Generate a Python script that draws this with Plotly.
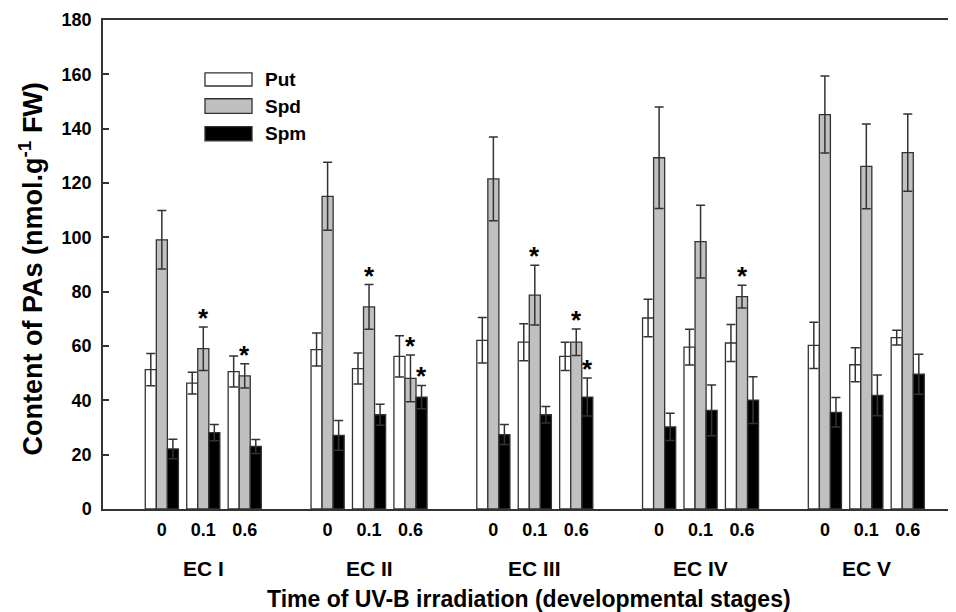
import plotly.graph_objects as go
import numpy as np

# Entwicklungsstadien und UV-B Dosen
stages = ['EC I', 'EC II', 'EC III', 'EC IV', 'EC V']
doses = ['0', '0.1', '0.6']

# Werte je Stadium x Dosis (Reihenfolge: EC I 0, 0.1, 0.6, EC II 0, ...)
put = [51.3, 46.3, 50.6, 58.7, 51.7, 56.2, 62.1, 61.4, 56.2, 70.3, 59.6, 61.1, 60.2, 53.1, 63.1]
put_err = [5.9, 4.0, 5.7, 6.1, 5.7, 7.6, 8.4, 6.8, 5.2, 6.9, 6.6, 6.8, 8.5, 6.3, 2.7]
spd = [99.1, 59.0, 49.0, 115.1, 74.4, 48.1, 121.5, 78.7, 61.4, 129.3, 98.4, 78.2, 145.2, 126.1, 131.2]
spd_err = [10.8, 8.0, 4.5, 12.5, 8.2, 8.6, 15.4, 11.0, 4.9, 18.7, 13.4, 4.2, 14.2, 15.6, 14.2]
spm = [22.1, 28.1, 23.0, 27.1, 34.7, 41.2, 27.4, 34.7, 41.2, 30.2, 36.3, 40.1, 35.6, 41.8, 49.6]
spm_err = [3.6, 3.0, 2.6, 5.5, 3.9, 4.3, 3.7, 3.0, 7.0, 5.0, 9.3, 8.6, 5.4, 7.5, 7.4]

# signifikante Unterschiede (*)
spd_sig = [0, 1, 1, 0, 1, 1, 0, 1, 1, 0, 0, 1, 0, 0, 0]
spm_sig = [0, 0, 0, 0, 0, 1, 0, 0, 1, 0, 0, 0, 0, 0, 0]

# x Positionen: 3 Dosen je Stadium + eine Lücke
xpos = np.array([4 * i + j for i in range(len(stages)) for j in range(len(doses))])
ticktext = doses * len(stages)

FONT = "Liberation Sans, Arial, sans-serif"
LINE = "#333333"

fig = go.Figure()

series = [
    ("Put", put, put_err, "white"),
    ("Spd", spd, spd_err, "#c0c0c0"),
    ("Spm", spm, spm_err, "black"),
]

for name, vals, errs, col in series:
    fig.add_trace(go.Bar(
        x=xpos, y=vals, name=name,
        marker=dict(color=col, line=dict(color=LINE, width=1.3)),
        error_y=dict(type="data", array=errs, visible=True,
                     color=LINE, thickness=1.5, width=4.5),
        showlegend=False,
    ))

fig.update_layout(barmode="group", bargap=0.2, bargroupgap=0)

# Sternchen über den Fehlerbalken
bw = 0.8 / 3
for k in range(len(xpos)):
    if spd_sig[k]:
        fig.add_annotation(x=xpos[k], y=spd[k] + spd_err[k], text="<b>*</b>",
                           showarrow=False, yanchor="bottom", yshift=-8,
                           font=dict(family=FONT, size=26, color="black"))
    if spm_sig[k]:
        fig.add_annotation(x=xpos[k] + bw, y=spm[k] + spm_err[k], text="<b>*</b>",
                           showarrow=False, yanchor="bottom", yshift=-8,
                           font=dict(family=FONT, size=26, color="black"))

# Stadien-Beschriftung unter den Dosen
for i, st in enumerate(stages):
    fig.add_annotation(x=4 * i + 1, y=-0.121, yref="paper", text=st,
                       showarrow=False, yanchor="middle",
                       font=dict(family=FONT, size=21, color="black", weight="bold"))

# eigene Legende (breite Kästchen wie im Original)
leg = [("Put", "white", 0.892, 0.865), ("Spd", "#c0c0c0", 0.839, 0.809), ("Spm", "black", 0.782, 0.753)]
for name, col, y1, y0 in leg:
    fig.add_shape(type="rect", xref="paper", yref="paper",
                  x0=0.1197, x1=0.1749, y0=y0, y1=y1,
                  fillcolor=col, line=dict(color=LINE, width=1.3))
    fig.add_annotation(xref="paper", yref="paper", x=0.188, y=(y0 + y1) / 2,
                       text=name, showarrow=False, xanchor="left", yanchor="middle",
                       font=dict(family=FONT, size=19, color="black", weight="bold"))

# Achsentitel
fig.add_annotation(xref="paper", yref="paper", x=0.5, y=-0.185, text="Time of UV-B irradiation (developmental stages)",
                   showarrow=False, yanchor="middle",
                   font=dict(family=FONT, size=23, color="black", weight="bold"))
fig.add_annotation(xref="paper", yref="paper", x=0, xshift=-72, y=0.49,
                   text="Content of PAs (nmol.g<sup>-1</sup> FW)", textangle=-90,
                   showarrow=False, xanchor="center", yanchor="middle",
                   font=dict(family=FONT, size=27, color="black", weight="bold"))

fig.update_xaxes(
    range=[-1.42, 19.14], tickmode="array", tickvals=xpos, ticktext=ticktext,
    ticks="", ticklabelstandoff=4, showline=True, linecolor=LINE, linewidth=1.5,
    mirror=True, showgrid=False, zeroline=False,
    tickfont=dict(family=FONT, size=18, color="black", weight="bold"),
)
fig.update_yaxes(
    range=[0, 180], dtick=20, ticks="inside", ticklen=6, tickwidth=1.5, tickcolor=LINE,
    ticklabelstandoff=6,
    showline=True, linecolor=LINE, linewidth=1.5, showgrid=False, zeroline=False,
    tickfont=dict(family=FONT, size=18, color="black", weight="bold"),
)

# Seite hat 8px Rand -> Figur entsprechend kleiner
fig.update_layout(
    width=948, height=604,
    margin=dict(l=95, r=1, t=12, b=103),
    plot_bgcolor="white", paper_bgcolor="white",
    showlegend=False,
)

fig.write_html("out.html")
